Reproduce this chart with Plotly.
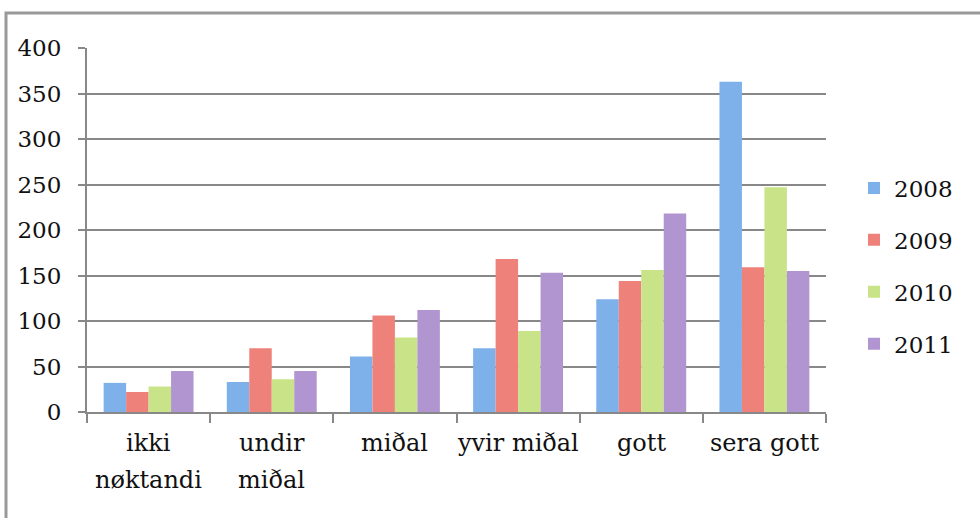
import plotly.graph_objects as go

categories = ["ikki<br>nøktandi", "undir<br>miðal", "miðal", "yvir miðal", "gott", "sera gott"]
years = ["2008", "2009", "2010", "2011"]
v2008 = [32, 33, 61, 70, 124, 363]
v2009 = [22, 70, 106, 168, 144, 159]
v2010 = [28, 36, 82, 89, 156, 247]
v2011 = [45, 45, 112, 153, 218, 155]
series = [v2008, v2009, v2010, v2011]
colors = ["#7eb0ea", "#ee827a", "#c9e388", "#b195d0"]

FONT = "DejaVu Serif"
W, H = 980, 518
L, R, T, B = 87, 826, 48, 412

fig = go.Figure()
for name, vals, col in zip(years, series, colors):
    fig.add_trace(go.Bar(
        x=categories, y=vals, name=name, legendgroup=name,
        marker=dict(color=col, line=dict(width=0)),
    ))

def px_to_paper_x(px):
    return (px - L) / (R - L)

def px_to_paper_y(py):
    return (B - py) / (B - T)

# category labels drawn line by line (reference uses wide line spacing)
line_y = [443, 480]
for cat in categories:
    for i, part in enumerate(cat.split("<br>")):
        fig.add_annotation(x=cat, xref="x", y=px_to_paper_y(line_y[i]), yref="paper",
                           text=part, showarrow=False, xanchor="center", yanchor="middle",
                           font=dict(family=FONT, size=24, color="#111"))

fig.update_layout(
    width=W, height=H,
    margin=dict(l=L, r=W - R, t=T, b=H - B, autoexpand=False),
    paper_bgcolor="white", plot_bgcolor="white",
    barmode="group", bargap=0.27, bargroupgap=0,
    font=dict(family=FONT, size=23, color="#111"),
    showlegend=True,
    legend=dict(x=px_to_paper_x(854), y=px_to_paper_y(266), xanchor="left", yanchor="middle",
                font=dict(family=FONT, size=23), tracegroupgap=19,
                itemwidth=30, bgcolor="rgba(0,0,0,0)"),
    xaxis=dict(showgrid=False, showline=True, linecolor="#888", linewidth=2,
               showticklabels=False,
               ticks="outside", ticklen=9, tickwidth=2, tickcolor="#888", automargin=False,
               tickson="boundaries"),
    yaxis=dict(range=[0, 400], dtick=50, showgrid=True, gridcolor="#888", gridwidth=2,
               showline=True, linecolor="#888", linewidth=2, zeroline=False, automargin=False,
               ticks="outside", ticklen=7, tickwidth=2, tickcolor="#888",
               tickfont=dict(family=FONT, size=23), ticklabelstandoff=12),
    shapes=[dict(type="rect", xref="paper", yref="paper",
                 x0=px_to_paper_x(6), x1=px_to_paper_x(1100),
                 y0=px_to_paper_y(700), y1=px_to_paper_y(13),
                 line=dict(color="#999", width=3), fillcolor="rgba(0,0,0,0)", layer="below")],
)

fig.write_html("out.html", post_script="document.body.style.margin='0';",
               config={"displayModeBar": False})
